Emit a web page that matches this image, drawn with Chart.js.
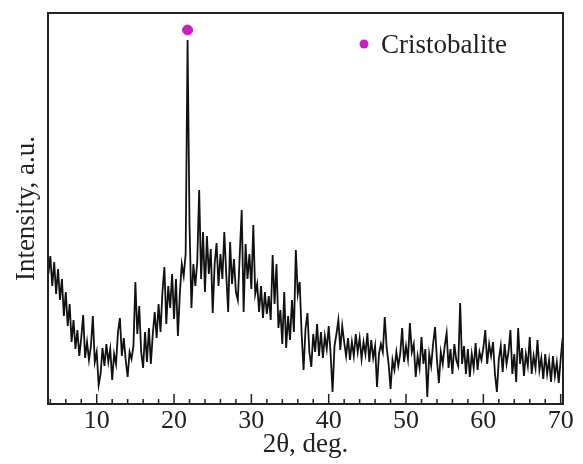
<!DOCTYPE html>
<html>
<head>
<meta charset="utf-8">
<script src="https://cdn.jsdelivr.net/npm/chart.js@4.4.1/dist/chart.umd.min.js"></script>
<style>
  html, body { margin: 0; padding: 0; background: #fff; }
  canvas { display: block; }
</style>
</head>
<body>
<canvas id="xrdChart" width="583" height="464"></canvas>
<script>
// 2-theta grid of the scan
const thetaStart = 3.75;
const thetaStep = 0.25;

// intensity, a.u.
const intensity = [
  130,
  148, 118, 142, 110,   135, 104, 125, 88,    112, 78, 100, 62,     84, 55, 74, 48,
  66, 89, 46, 62,       44, 58, 88, 42,       52, 19, 30, 56,       38, 60, 42, 55,
  24, 50, 40, 72,       86, 48, 66, 44,       27, 52, 45, 58,       122, 70, 98, 52,
  36, 72, 42, 76,       40, 70, 92, 66,       100, 72, 112, 137,    80, 118, 96, 130,
  85, 125, 68, 110,     140, 128, 150, 364,   180, 96, 140, 118,    142, 214, 125, 172,
  112, 168, 130, 155,   91, 140, 161, 118,    150, 125, 172, 130,   92, 162, 120, 145,
  112, 104, 150, 194,   92, 160, 125, 150,    115, 179, 110, 120,   92, 118, 86, 112,
  90, 108, 84, 149,     100, 140, 76, 94,     60, 112, 56, 88,      64, 104, 72, 154,
  110, 122, 70, 34,     75, 91, 52, 37,       70, 52, 80, 48,       72, 46, 68, 55,
  78, 50, 12, 58,       70, 84, 54, 78,       62, 48, 66, 44,       62, 48, 70, 52,
  66, 45, 62, 50,       71, 42, 64, 46,       58, 17, 50, 60,       52, 87, 56, 40,
  15, 44, 34, 52,       38, 50, 76, 42,       58, 45, 81, 52,       60, 27, 48, 36,
  67, 40, 55, 7,        50, 38, 60, 77,       44, 21, 52, 40,       58, 71, 36, 55,
  30, 60, 44, 38,       101, 40, 58, 30,      55, 27, 50, 36,       61, 34, 52, 44,
  56, 74, 40, 60,       48, 62, 30, 12,       45, 58, 32, 60,       40, 52, 74, 30,
  50, 22, 76, 40,       56, 28, 50, 38,       67, 30, 48, 36,       64, 34, 46, 25,
  50, 30, 44, 22,       48, 28, 42, 21,
  45, 66
];

const xTicks = [10, 20, 30, 40, 50, 60, 70];
const peakTheta = [21.75];
const peakMark = [374];
const legendLabel = 'Cristobalite';

document.addEventListener('DOMContentLoaded', function () {
    const serif = '"Liberation Serif", "Times New Roman", serif';
    const ink = '#222';
    const magenta = '#c81ec8';

    const points = intensity.map((v, i) => ({ x: thetaStart + i * thetaStep, y: v }));
    const marks = peakTheta.map((t, i) => ({ x: t, y: peakMark[i] }));

    // frame, inward ticks and the phase legend
    const frameTicks = {
        id: 'frameTicks',
        afterDatasetsDraw(chart) {
            const { ctx, chartArea: a } = chart;
            const x = chart.scales.x;
            ctx.save();
            ctx.strokeStyle = ink;
            ctx.lineWidth = 2;
            ctx.strokeRect(a.left, a.top, a.right - a.left, a.bottom - a.top);
            ctx.lineWidth = 1.5;
            for (let t = 4; t <= 70; t += 2) {
                const px = x.getPixelForValue(t);
                const len = t % 10 === 0 ? 10 : 5;
                ctx.beginPath();
                ctx.moveTo(px, a.bottom);
                ctx.lineTo(px, a.bottom - len);
                ctx.stroke();
            }
            ctx.fillStyle = magenta;
            ctx.beginPath();
            ctx.arc(364, 44, 4.5, 0, Math.PI * 2);
            ctx.fill();
            ctx.fillStyle = ink;
            ctx.font = '27px ' + serif;
            ctx.textBaseline = 'alphabetic';
            ctx.fillText(legendLabel, 381, 53);
            ctx.restore();
        }
    };

    const ctx = document.getElementById('xrdChart').getContext('2d');
    new Chart(ctx, {
        type: 'line',
        data: {
            datasets: [{
                data: points,
                borderColor: '#111',
                borderWidth: 1.8,
                pointRadius: 0,
                tension: 0,
                fill: false
            }, {
                type: 'scatter',
                data: marks,
                backgroundColor: magenta,
                borderColor: magenta,
                pointRadius: 5
            }]
        },
        options: {
            responsive: false,
            animation: false,
            layout: { padding: { top: 13, right: 20, left: 0, bottom: 0 } },
            plugins: {
                legend: { display: false },
                tooltip: { enabled: false }
            },
            scales: {
                x: {
                    type: 'linear',
                    min: 3.7,
                    max: 70.3,
                    grid: { display: false, drawTicks: false },
                    border: { display: false },
                    afterBuildTicks: function (scale) {
                        scale.ticks = xTicks.map(v => ({ value: v }));
                    },
                    afterFit: function (scale) { scale.height = 60; },
                    ticks: {
                        color: ink,
                        padding: 2,
                        maxRotation: 0,
                        font: { family: serif, size: 26 }
                    },
                    title: {
                        display: true,
                        text: '2θ, deg.',
                        color: ink,
                        padding: { top: 0, bottom: 3 },
                        font: { family: serif, size: 27 }
                    }
                },
                y: {
                    min: 0,
                    max: 391,
                    grid: { display: false, drawTicks: false },
                    border: { display: false },
                    ticks: { display: false },
                    afterFit: function (scale) { scale.width = 48; },
                    title: {
                        display: true,
                        text: 'Intensity, a.u.',
                        color: ink,
                        padding: { top: 11, bottom: 0 },
                        font: { family: serif, size: 27 }
                    }
                }
            }
        },
        plugins: [frameTicks]
    });
});
</script>
</body>
</html>
